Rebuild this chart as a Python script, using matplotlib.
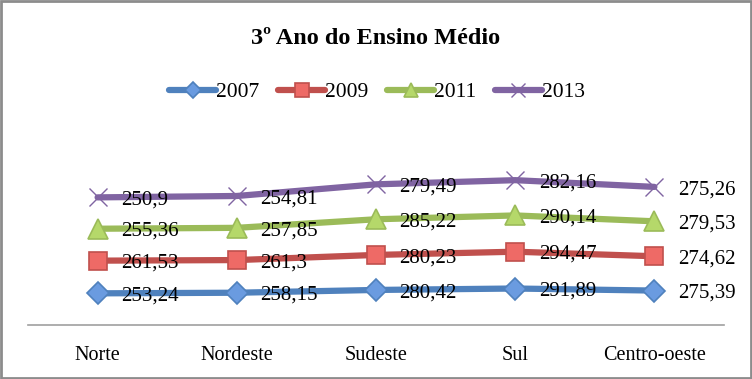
import numpy as np
import matplotlib.pyplot as plt
from matplotlib.patches import Rectangle

regioes = ["Norte", "Nordeste", "Sudeste", "Sul", "Centro-oeste"]
anos = ["2007", "2009", "2011", "2013"]
v2007 = [253.24, 258.15, 280.42, 291.89, 275.39]
v2009 = [261.53, 261.3, 280.23, 294.47, 274.62]
v2011 = [255.36, 257.85, 285.22, 290.14, 279.53]
v2013 = [250.9, 254.81, 279.49, 282.16, 275.26]

series = [v2007, v2009, v2011, v2013]
cores = ["#4F81BD", "#C0504D", "#9BBB59", "#8064A2"]
cores_marc = ["#6A9BE0", "#EE6A66", "#B5D86A", "#8064A2"]
marcadores = ["D", "s", "^", "x"]
tam_marc = [11, 13, 14, 13]

plt.rcParams['font.family'] = ['Liberation Serif', 'DejaVu Serif']

fig = plt.figure(figsize=(7.52, 3.79), dpi=100)
fig.patches.append(Rectangle((0.0015, 0.002), 0.997, 0.995, transform=fig.transFigure,
                             fill=False, edgecolor="#8c8c8c", linewidth=2))

ax = fig.add_axes([28 / 752, 54 / 379, 696 / 752, 175 / 379])
x = np.arange(len(regioes))
acumulado = np.cumsum(np.array(series), axis=0)

linhas = []
for i, ano in enumerate(anos):
    l, = ax.plot(x, acumulado[i], color=cores[i], linewidth=4.5, solid_capstyle="round",
                 marker=marcadores[i], markersize=tam_marc[i],
                 markerfacecolor=cores_marc[i], markeredgecolor=cores[i],
                 markeredgewidth=1.2 if marcadores[i] != "x" else 1.0, label=ano, zorder=3)
    linhas.append(l)
    for xi, yi, v in zip(x, acumulado[i], series[i]):
        txt = ("%g" % v).replace(".", ",")
        ax.annotate(txt, (xi, yi), xytext=(17, -2), textcoords="offset points",
                    ha="left", va="center", fontsize=15, zorder=4)

ax.set_xlim(-0.5, 4.5)
ax.set_ylim(0, 1400)
ax.set_xticks(x)
ax.set_xticklabels(regioes, fontsize=14.5)
ax.tick_params(axis="x", length=0, pad=15)
ax.set_yticks([])
for s in ["top", "right", "left"]:
    ax.spines[s].set_visible(False)
ax.spines["bottom"].set_color("#a0a0a0")
ax.spines["bottom"].set_linewidth(1.2)

fig.text(376 / 752, 1 - 39 / 379, "3º Ano do Ensino Médio", ha="center", va="center",
         fontsize=17.5, fontweight="bold")

leg = fig.legend(handles=linhas, loc="center", bbox_to_anchor=(377 / 752, 1 - 92 / 379),
                 ncol=4, frameon=False, fontsize=15.5, handlelength=2.2, handletextpad=0.0,
                 columnspacing=0.85, markerscale=0.75)

fig.savefig("out.png", dpi=100)
